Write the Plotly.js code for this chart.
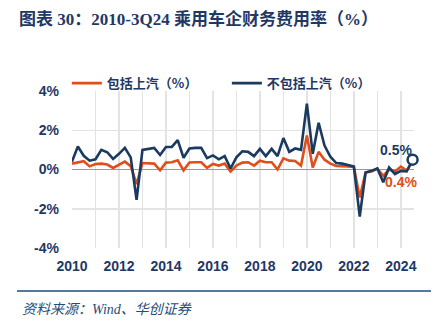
<!DOCTYPE html>
<html>
<head>
<meta charset="utf-8">
<script src="https://cdn.plot.ly/plotly-3.0.1.min.js"></script>
<style>
html,body{margin:0;padding:0;background:#fff;}
#chart{width:444px;height:326px;}
</style>
</head>
<body>
<div id="chart"></div>
<script>
// Quarterly labels 2010Q1 .. 2024Q3
const quarters = [];
for (let y = 2010; y <= 2024; y++) {
  for (let q = 1; q <= 4; q++) {
    if (y === 2024 && q > 3) break;
    quarters.push(y + "Q" + q);
  }
}

// 包括上汽（%）
const inclSAIC = [
  0.30, 0.35, 0.42, 0.16, 0.28, 0.30, 0.25, 0.08, 0.25, 0.40,
  0.17, -0.75, 0.33, 0.33, 0.30, -0.04, 0.35, 0.37, 0.47, -0.04,
  0.36, 0.37, 0.37, 0.08, 0.28, 0.20, 0.30, -0.10, 0.20, 0.35,
  0.37, 0.20, 0.45, 0.37, 0.37, 0.00, 0.57, 0.45, 0.43, 0.20,
  1.73, 0.10, 0.90, 0.50, 0.30, 0.18, 0.15, 0.15, 0.13, -1.43,
  -0.15, -0.10, 0.05, -0.32, 0.00, -0.10, 0.15, -0.05, 0.40
];

// 不包括上汽（%）
const exclSAIC = [
  0.40, 1.17, 0.70, 0.45, 0.52, 1.00, 0.88, 0.54, 0.80, 1.10,
  0.62, -1.55, 1.00, 1.05, 1.10, 0.74, 1.15, 1.15, 1.50, 0.60,
  1.07, 1.10, 1.10, 0.58, 0.72, 0.52, 0.68, 0.05, 0.62, 0.93,
  0.90, 0.68, 1.05, 0.68, 1.05, 0.68, 1.60, 0.90, 1.07, 1.00,
  3.35, 0.80, 2.38, 1.22, 0.65, 0.33, 0.30, 0.23, 0.15, -2.40,
  -0.15, -0.07, 0.05, -0.65, 0.10, -0.23, -0.07, -0.10, 0.50
];

const yTickVals = [-4, -2, 0, 2, 4];
const yTickText = ["-4%", "-2%", "0%", "2%", "4%"];
const xTickVals = [2010, 2012, 2014, 2016, 2018, 2020, 2022, 2024];
const xTickText = ["2010", "2012", "2014", "2016", "2018", "2020", "2022", "2024"];

const seriesNames = ["包括上汽（%）", "不包括上汽（%）"];

const xs = quarters.map(s => {
  const y = parseInt(s.slice(0, 4), 10);
  const q = parseInt(s.slice(5), 10);
  return y + (q - 1) / 4;
});

const NAVY = "#1B3A5F";
const ORANGE = "#DF4E1B";
const TXT = "#1F3864";

const last = xs.length - 1;

const traces = [
  {
    x: xs, y: inclSAIC, name: seriesNames[0], type: "scatter", mode: "lines",
    line: {color: ORANGE, width: 2.6}
  },
  {
    x: xs, y: exclSAIC, name: seriesNames[1], type: "scatter", mode: "lines",
    line: {color: NAVY, width: 2.6}
  },
  {
    x: [xs[last]], y: [exclSAIC[last]], type: "scatter", mode: "markers",
    showlegend: false, hoverinfo: "skip", cliponaxis: false,
    marker: {size: 10, color: "#ffffff", line: {color: NAVY, width: 2.5}}
  }
];

const layout = {
  width: 444, height: 326,
  margin: {l: 72, r: 30, t: 91, b: 78},
  paper_bgcolor: "#ffffff", plot_bgcolor: "#ffffff",
  showlegend: true,
  title: {
    text: "图表 30：2010-3Q24 乘用车企财务费用率（%）",
    font: {family: "Liberation Serif, 'Noto Sans CJK SC', serif", size: 17, color: TXT, weight: "bold"},
    x: 19 / 444, xanchor: "left", xref: "container",
    y: 1 - 19 / 326, yanchor: "middle", yref: "container"
  },
  legend: {
    orientation: "h",
    x: -0.015, xanchor: "left",
    y: 1.05, yanchor: "middle",
    font: {family: "'Noto Sans CJK SC', sans-serif", size: 13, color: TXT, weight: "bold"},
    bgcolor: "rgba(0,0,0,0)",
    itemwidth: 30,
    entrywidth: 115
  },
  xaxis: {
    range: [2010, 2024.56],
    tickvals: xTickVals, ticktext: xTickText,
    showgrid: true, gridcolor: "#E3E3E3", gridwidth: 1.5,
    minor: {dtick: 1, tick0: 2010, showgrid: true, gridcolor: "#E3E3E3", gridwidth: 1.5},
    zeroline: false, showline: false, ticks: "",
    ticklabelstandoff: 8,
    tickfont: {family: "'Liberation Sans', Arial, sans-serif", size: 14, color: TXT, weight: "bold"},
    fixedrange: true
  },
  yaxis: {
    range: [-4, 4],
    tickvals: yTickVals, ticktext: yTickText,
    showgrid: true, gridcolor: "#E3E3E3", gridwidth: 1.5,
    zeroline: true, zerolinecolor: "#9A9A9A", zerolinewidth: 1,
    showline: false, ticks: "",
    ticklabelstandoff: 12,
    tickfont: {family: "'Liberation Sans', Arial, sans-serif", size: 14, color: TXT, weight: "bold"},
    fixedrange: true
  },
  annotations: [
    {
      x: xs[last], y: exclSAIC[last], xref: "x", yref: "y",
      text: "0.5%", showarrow: false, xshift: -17, yshift: 10,
      font: {family: "'Liberation Sans', Arial, sans-serif", size: 14, color: NAVY, weight: "bold"}
    },
    {
      x: xs[last], y: inclSAIC[last], xref: "x", yref: "y",
      text: "0.4%", showarrow: false, xshift: -12, yshift: -20,
      font: {family: "'Liberation Sans', Arial, sans-serif", size: 14, color: ORANGE, weight: "bold"}
    },
    {
      x: (20 - 72) / 342, y: -(309 - 248) / 157, xref: "paper", yref: "paper",
      text: "<i>资料来源：Wind、华创证券</i>", showarrow: false,
      xanchor: "left", yanchor: "middle",
      font: {family: "'Liberation Serif', 'Noto Sans CJK SC', serif", size: 14, color: "#1F4E79"}
    }
  ],
  shapes: [
    {
      type: "line", xref: "paper", yref: "paper",
      x0: -55 / 342, x1: 359 / 342, y0: -(291 - 248) / 157, y1: -(291 - 248) / 157,
      line: {color: "#1F4E79", width: 1.6}
    }
  ]
};

Plotly.newPlot("chart", traces, layout, {staticPlot: true, displayModeBar: false});
</script>
</body>
</html>
